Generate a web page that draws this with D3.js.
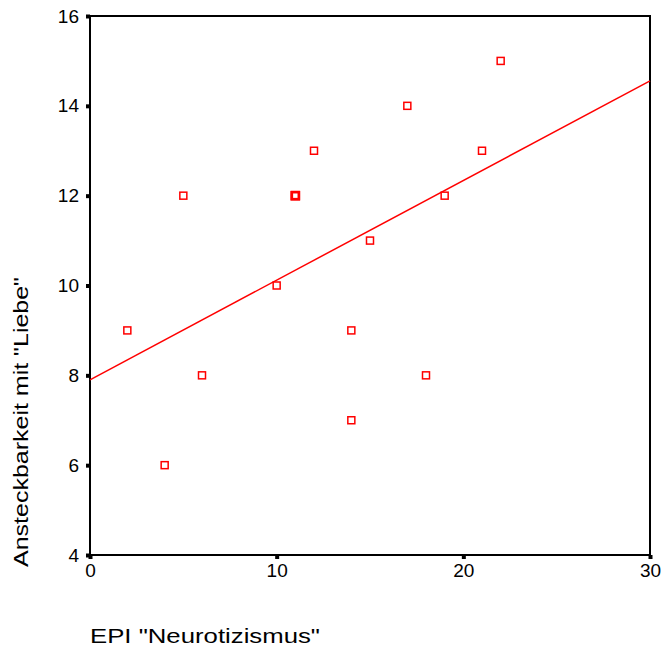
<!DOCTYPE html>
<html>
<head>
<meta charset="utf-8">
<script src="https://cdn.jsdelivr.net/npm/d3@7"></script>
<style>
  body { margin: 0; background: #fff; }
  text { font-family: "Liberation Sans", Arial, sans-serif; fill: #000; }
</style>
</head>
<body>
<svg id="chart" width="664" height="652"></svg>
<script>
// Werte aus dem Streudiagramm
const neurotizismus = [2, 4, 5, 6, 10, 11, 11, 12, 14, 14, 15, 17, 18, 19, 21, 22];
const liebe         = [9, 6, 12, 8, 10, 12, 12, 13, 9, 7, 11, 14, 8, 12, 13, 15];
const xTicks = [0, 10, 20, 30];
const yTicks = [4, 6, 8, 10, 12, 14, 16];

const margin = {top: 16, right: 14, bottom: 97, left: 90};
const width = 664, height = 652;

const svg = d3.select('#chart');

const x = d3.scaleLinear().domain([0, 30]).range([margin.left, width - margin.right]);
const y = d3.scaleLinear().domain([4, 16]).range([height - margin.bottom, margin.top]);

const points = neurotizismus.map((v, i) => ({x: v, y: liebe[i]}));

// frame
svg.append('rect')
    .attr('x', x(0)).attr('y', y(16))
    .attr('width', x(30) - x(0)).attr('height', y(4) - y(16))
    .attr('fill', 'none').attr('stroke', '#000').attr('stroke-width', 2);

// axes
const xAxis = svg.append('g')
    .attr('transform', `translate(0,${y(4)})`)
    .call(d3.axisBottom(x).tickValues(xTicks).tickSize(4).tickPadding(5));
const yAxis = svg.append('g')
    .attr('transform', `translate(${x(0)},0)`)
    .call(d3.axisLeft(y).tickValues(yTicks).tickSize(4).tickPadding(7));

[xAxis, yAxis].forEach(a => {
  a.select('.domain').remove();
  a.selectAll('.tick line').attr('stroke', '#000').attr('stroke-width', 4);
  a.selectAll('.tick text').attr('font-size', 19).attr('font-family', '"Liberation Sans", Arial, sans-serif');
});

// regression line (least squares)
const mx = d3.mean(points, d => d.x), my = d3.mean(points, d => d.y);
const slope = d3.sum(points, d => (d.x - mx) * (d.y - my)) / d3.sum(points, d => (d.x - mx) ** 2);
const intercept = my - slope * mx;

svg.append('line')
    .attr('x1', x(0)).attr('y1', y(intercept))
    .attr('x2', x(30)).attr('y2', y(intercept + slope * 30))
    .attr('stroke', '#ff0000').attr('stroke-width', 1.5);

// markers
const counts = d3.rollup(points, v => v.length, d => d.x + ',' + d.y);
const s = 7;
svg.selectAll('.pt')
    .data(points)
    .join('rect')
    .attr('class', 'pt')
    .attr('x', d => x(d.x) - s / 2)
    .attr('y', d => y(d.y) - s / 2)
    .attr('width', s).attr('height', s)
    .attr('fill', '#fff')
    .attr('stroke', '#ff0000')
    .attr('stroke-width', d => counts.get(d.x + ',' + d.y) > 1 ? 2.6 : 1.5);

// labels
svg.append('text')
    .attr('x', x(0)).attr('y', 643)
    .attr('font-size', 21)
    .attr('textLength', 230)
    .attr('lengthAdjust', 'spacingAndGlyphs')
    .text('EPI "Neurotizismus"');

svg.append('text')
    .attr('transform', `translate(28,${422}) rotate(-90)`)
    .attr('text-anchor', 'middle')
    .attr('font-size', 21)
    .attr('textLength', 290)
    .attr('lengthAdjust', 'spacingAndGlyphs')
    .text('Ansteckbarkeit mit "Liebe"');
</script>
</body>
</html>
